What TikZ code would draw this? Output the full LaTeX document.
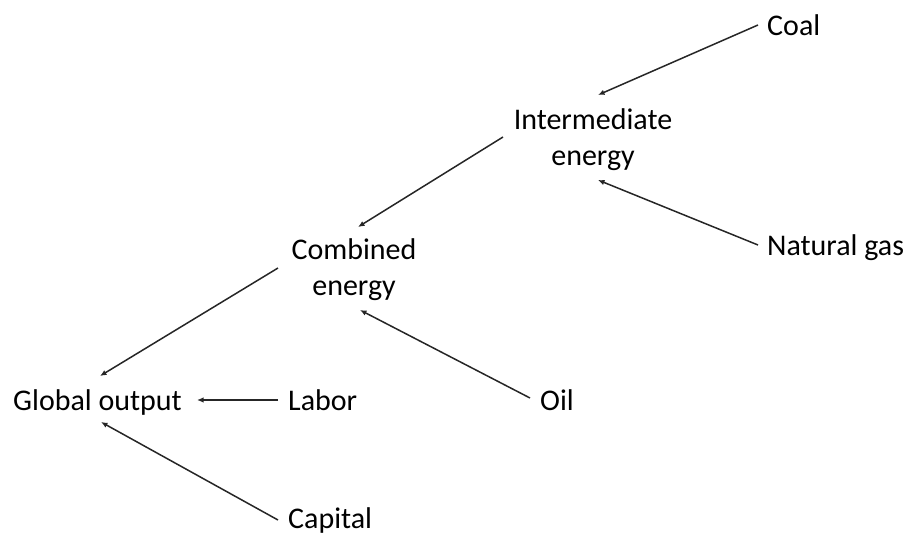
\documentclass[tikz,border=0pt]{standalone}
\usepackage{fontspec}
\setmainfont{Carlito}
\usetikzlibrary{arrows.meta}
\begin{document}
\begin{tikzpicture}[x=1pt,y=-1pt,
  lbl/.style={inner sep=0pt, font=\fontsize{30}{36}\selectfont, text=black},
  two/.style={lbl, align=center, anchor=center},
  one/.style={lbl, anchor=base west},
  arr/.style={line width=1.5pt, draw=black!85, -{Latex[length=6.5pt,width=5.5pt]}}]
\useasboundingbox (0,0) rectangle (911,536);
% nodes
\node[one] (coal) at (767,35) {Coal};
\node[two] (inter) at (593,140) {Intermediate\\energy};
\node[one] (gas) at (767,255) {Natural gas};
\node[two] (comb) at (354,270) {Combined\\energy};
\node[one] (glob) at (13,410) {Global output};
\node[one] (labor) at (288,410) {Labor};
\node[one] (oil) at (540,410) {Oil};
\node[one] (cap) at (288,528) {Capital};
% connector ends
\coordinate (coalS) at (758,25);
\coordinate (gasS) at (758,245);
\coordinate (interIn1) at (598,95);
\coordinate (interIn2) at (598,180);
\coordinate (interS) at (503,137);
\coordinate (combIn1) at (358,227);
\coordinate (combIn2) at (360,310);
\coordinate (oilS) at (530,398);
\coordinate (combS) at (278,268);
\coordinate (laborS) at (278,400);
\coordinate (capS) at (278,520);
\coordinate (globIn1) at (100,376);
\coordinate (globIn2) at (197,400);
\coordinate (globIn3) at (101,422);
% connectors
\draw[arr] (coalS) -- (interIn1);
\draw[arr] (gasS) -- (interIn2);
\draw[arr] (interS) -- (combIn1);
\draw[arr] (oilS) -- (combIn2);
\draw[arr] (combS) -- (globIn1);
\draw[arr] (laborS) -- (globIn2);
\draw[arr] (capS) -- (globIn3);
\end{tikzpicture}
\end{document}
